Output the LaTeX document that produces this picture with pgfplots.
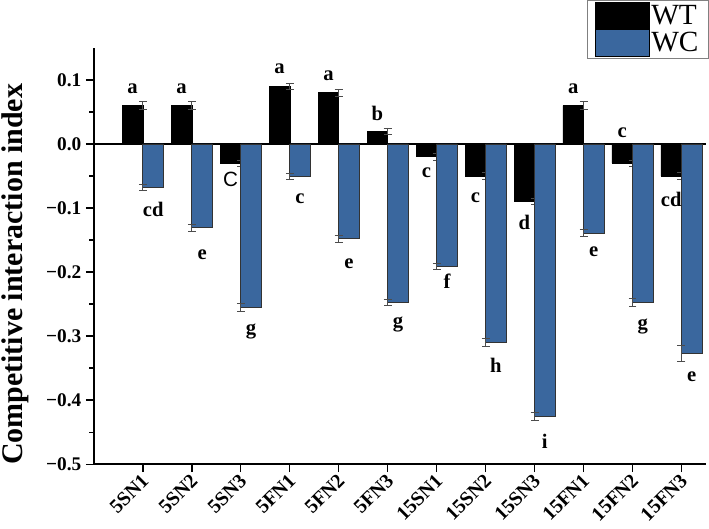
\documentclass[border=0pt]{standalone}
\usepackage{fontspec}
\setmainfont{Liberation Serif}
\setsansfont{Liberation Sans}
\usepackage{pgfplots}
\usepackage{pgfplotstable}
\pgfplotsset{compat=1.18}
\definecolor{wcblue}{RGB}{58,103,158}

\pgfplotstableread{
x wt wte wc wce
1 0.060 0.006 -0.068 0.005
2 0.060 0.006 -0.131 0.005
3 -0.030 0.005 -0.255 0.006
4 0.090 0.005 -0.051 0.005
5 0.080 0.005 -0.148 0.005
6 0.020 0.005 -0.247 0.005
7 -0.020 0.005 -0.191 0.005
8 -0.050 0.005 -0.310 0.006
9 -0.090 0.005 -0.425 0.006
10 0.060 0.006 -0.139 0.006
11 -0.030 0.005 -0.247 0.006
12 -0.050 0.005 -0.327 0.012
}\data

\pgfplotstableread{
x y t
0.79 0.086 a
1.79 0.086 a
2.79 -0.056 {\mdseries\sffamily C}
3.79 0.117 a
4.79 0.106 a
5.79 0.048 b
6.79 -0.045 c
7.79 -0.084 c
8.79 -0.123 d
9.79 0.086 a
10.79 0.017 c
11.79 -0.086 cd
1.21 -0.103 cd
2.21 -0.173 e
3.21 -0.293 g
4.21 -0.086 c
5.21 -0.187 e
6.21 -0.282 g
7.21 -0.215 f
8.21 -0.346 h
9.21 -0.464 i
10.21 -0.168 e
11.21 -0.285 g
12.21 -0.363 e
}\labels

\begin{document}
\begin{tikzpicture}
\begin{axis}[
  scale only axis,
  width=459.75pt, height=312.75pt,
  xmin=0, xmax=12.5, ymin=-0.5, ymax=0.15,
  axis lines*=left,
  axis line style={line width=1.2pt},
  xtick={1,2,3,4,5,6,7,8,9,10,11,12},
  xticklabels={5SN1,5SN2,5SN3,5FN1,5FN2,5FN3,15SN1,15SN2,15SN3,15FN1,15FN2,15FN3},
  x tick label style={rotate=45, anchor=east, yshift=-4pt, xshift=2pt, font=\bfseries\fontsize{15}{17}\selectfont},
  ytick={-0.5,-0.4,-0.3,-0.2,-0.1,0,0.1},
  yticklabels={−0.5,−0.4,−0.3,−0.2,−0.1,0.0,0.1},
  y tick label style={font=\bfseries\fontsize{14.5}{16}\selectfont},
  minor y tick num=1,
  tick align=outside,
  major tick length=6pt, minor tick length=3.5pt,
  tick style={black, line width=1pt},
  ylabel={Competitive interaction index},
  ylabel style={at={(axis description cs:-0.128,0.456)}, anchor=center, inner sep=1.5pt, font=\bfseries\fontsize{22.5}{26}\selectfont},
  legend style={at={(axis description cs:1.005,1.115)}, anchor=north east, draw=gray, line width=0.8pt,
    font=\fontsize{22}{24}\selectfont, row sep=0pt, inner xsep=6pt, inner ysep=1pt,
    nodes={inner sep=1.5pt}},
  legend cell align=left,
  legend image code/.code={\draw[#1, draw=black, line width=0.6pt] (0pt,-10pt) rectangle (40pt,10pt);},
  clip=false,
]
\addplot[black, line width=1pt, forget plot] coordinates {(0,0) (12.5,0)};
\addplot[ybar, bar width=0.42, bar shift=-0.21, fill=black, draw=black,
  error bars/.cd, y dir=both, y explicit,
  error bar style={black!70, line width=0.6pt},
  error mark options={rotate=90, mark size=3pt, black!70, line width=0.6pt}]
  table[x=x, y=wt, y error=wte]{\data};
\addlegendentry{WT}
\addplot[ybar, bar width=0.42, bar shift=0.21, fill=wcblue, draw=black!80, line width=0.6pt,
  error bars/.cd, y dir=both, y explicit,
  error bar style={black!70, line width=0.6pt},
  error mark options={rotate=90, mark size=3pt, black!70, line width=0.6pt}]
  table[x=x, y=wc, y error=wce]{\data};
\addlegendentry{WC}
\addplot[only marks, mark=none, forget plot, nodes near coords, point meta=explicit symbolic,
  every node near coord/.append style={anchor=center, font=\bfseries\fontsize{15.5}{17}\selectfont}]
  table[x=x, y=y, meta=t]{\labels};
\end{axis}
\end{tikzpicture}
\end{document}
